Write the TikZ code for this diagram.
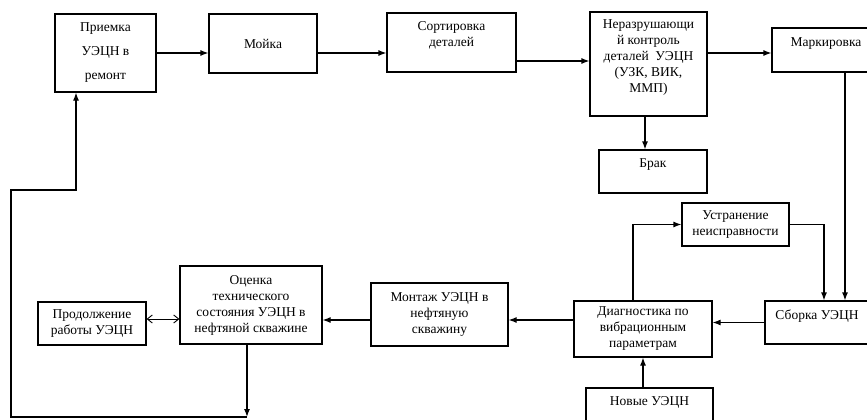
\documentclass[tikz,border=0pt]{standalone}
\usepackage{fontspec}
\setmainfont{Liberation Serif}
\usetikzlibrary{arrows}
\usetikzlibrary{arrows.meta}
\usetikzlibrary{calc}
\usetikzlibrary{positioning}

\begin{document}
\begin{tikzpicture}[x=1pt,y=-1pt]
        \tikzset{block/.style = {draw,line width=1.2pt,align=center,inner sep=2pt,font=\fontsize{13.5}{16}\selectfont}}
        \tikzset{flow_edge/.style = {->,> = {Latex[length=8pt,width=6pt]},line width=1.2pt,color=black}}
        \tikzset{both_edge/.style = {<->,> = {Straight Barb[length=5pt,width=8pt]},line width=0.9pt,color=black}}

        \useasboundingbox (0,0) rectangle (867,420);

        \node[block,minimum width=101,minimum height=78,font=\fontsize{13.5}{24}\selectfont] (priem) at (105.5,53) {Приемка\\УЭЦН в\\ремонт};
        \node[block,minimum width=108,minimum height=59] (mojka) at (263,43.5) {Мойка};
        \node[block,minimum width=129,minimum height=59] (sort) at (451.5,42.5) {Сортировка\\деталей\\ ~};
        \node[block,minimum width=117,minimum height=104] (kontr) at (648.5,64) {Неразрушающи\\й контроль\\деталей~ УЭЦН\\(УЗК, ВИК,\\ММП)\\ ~};
        \node[block,minimum width=108,minimum height=44] (mark) at (826,50) {Маркировка\\ ~};
        \node[block,minimum width=108,minimum height=43] (brak) at (653,171.5) {Брак\\ ~};
        \node[block,minimum width=107,minimum height=43] (ustr) at (735.5,224.5) {Устранение\\неисправности};
        \node[block,minimum width=104,minimum height=43] (sborka) at (817,322.5) {Сборка УЭЦН\\ ~};
        \node[block,minimum width=138,minimum height=56] (diag) at (643,329) {Диагностика по\\вибрационным\\параметрам};
        \node[block,minimum width=127,minimum height=43] (novye) at (649.5,409.5) {Новые УЭЦН\\ ~};
        \node[block,minimum width=137,minimum height=63] (montazh) at (439.5,314.5) {Монтаж УЭЦН в\\нефтяную\\скважину};
        \node[block,minimum width=142,minimum height=78] (ocenka) at (251,305) {Оценка\\технического\\состояния УЭЦН в\\нефтяной скважине};
        \node[block,minimum width=108,minimum height=43] (prod) at (92,323.5) {Продолжение\\работы УЭЦН};

        % top row
        \draw[flow_edge] (priem.east) -- (priem.east -| mojka.west);
        \draw[flow_edge] (mojka.east |- priem.east) -- (priem.east -| sort.west);
        \draw[flow_edge] ([yshift=-18.5pt]sort.east) -- ([yshift=-18.5pt]sort.east -| kontr.west);
        \draw[flow_edge] (priem.east -| kontr.east) -- (priem.east -| mark.west);
        \draw[flow_edge] ([xshift=-3.5pt]kontr.south) -- ([xshift=-3.5pt]kontr.south |- brak.north);

        % right side
        \draw[flow_edge] ([xshift=19pt]mark.south) -- ([xshift=19pt]mark.south |- sborka.north);
        \draw[flow_edge] (ustr.east) -| ([xshift=7pt]sborka.north);
        \draw[flow_edge] ([xshift=-10pt]diag.north) |- (ustr.west);
        \draw[flow_edge] (sborka.west) -- (sborka.west -| diag.east);
        \draw[flow_edge] (diag.south |- novye.north) -- (diag.south);

        % bottom row
        \draw[flow_edge] ([yshift=-5.5pt]montazh.east -| diag.west) -- ([yshift=-5.5pt]montazh.east);
        \draw[flow_edge] ([yshift=-5.5pt]montazh.west) -- ([yshift=-5.5pt]montazh.west -| ocenka.east);
        \draw[both_edge] ([yshift=4.5pt]prod.east) -- ([yshift=4.5pt]prod.east -| ocenka.west);

        % return loop
        \coordinate (loopA) at (11,417);
        \coordinate (loopB) at (11,190);
        \coordinate (loopC) at (76,190);
        \draw[flow_edge] ([xshift=-4pt]ocenka.south) -- ([xshift=-4pt]ocenka.south |- loopA);
        \draw[flow_edge] ([xshift=-4pt]ocenka.south |- loopA) -- (loopA) -- (loopB) -- (loopC) -- (loopC |- priem.south);
    \end{tikzpicture}
\end{document}
